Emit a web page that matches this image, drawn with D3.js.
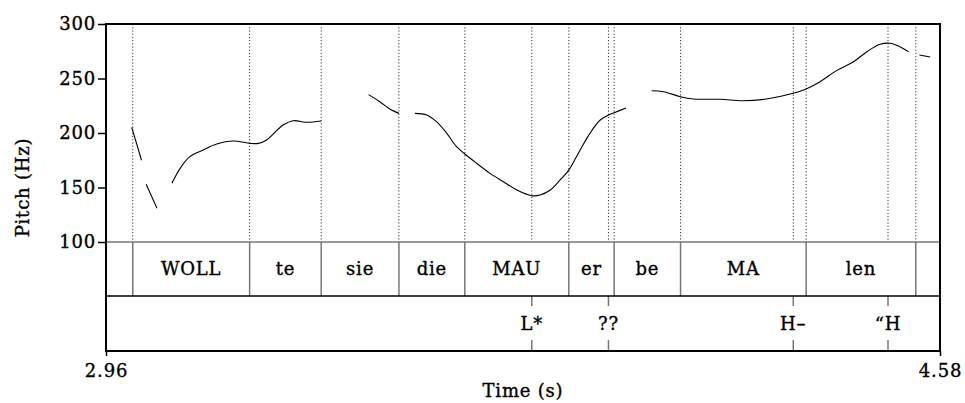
<!DOCTYPE html>
<html>
<head>
<meta charset="utf-8">
<script src="https://cdn.jsdelivr.net/npm/d3@7"></script>
<style>
  body { margin: 0; background: #fff; }
</style>
</head>
<body>
<svg width="965" height="403"></svg>
<script>
// pitch contour, one array per voiced stretch: [time (s), pitch (Hz)]
var seg1 = [[3.010, 205.2], [3.029, 175.0]];
var seg2 = [[3.038, 152.9], [3.059, 130.9]];
var seg3 = [[3.088, 153.8], [3.104, 167.6], [3.123, 178.3], [3.149, 184.4], [3.175, 189.9],
            [3.207, 192.7], [3.240, 190.5], [3.256, 190.5], [3.272, 193.6], [3.304, 207.3],
            [3.324, 211.3], [3.350, 209.8], [3.378, 211.0]];
var seg4 = [[3.470, 235.2], [3.492, 228.7], [3.512, 221.7], [3.529, 218.0]];
var seg5 = [[3.560, 218.0], [3.583, 216.5], [3.602, 210.4], [3.622, 199.7], [3.641, 187.4],
            [3.657, 180.7], [3.680, 172.2], [3.706, 163.0], [3.732, 155.3], [3.758, 147.7],
            [3.787, 142.5], [3.803, 143.1], [3.823, 147.7], [3.842, 156.9], [3.859, 166.0],
            [3.881, 184.4], [3.900, 199.7], [3.920, 211.9], [3.936, 216.5], [3.947, 218.6],
            [3.970, 222.9]];
var seg6 = [[4.020, 238.8], [4.043, 237.9], [4.076, 233.3], [4.101, 231.2], [4.153, 230.9],
            [4.198, 229.6], [4.243, 231.2], [4.295, 236.4], [4.320, 240.4], [4.347, 247.1],
            [4.379, 257.2], [4.412, 265.4], [4.438, 274.6], [4.464, 281.4], [4.483, 282.3],
            [4.502, 279.2], [4.519, 274.6]];
var seg7 = [[4.540, 271.5], [4.561, 269.7]];
var pitchSegments = [seg1, seg2, seg3, seg4, seg5, seg6, seg7];

// syllable tier (interval boundaries and labels)
var syllableBounds = [3.012, 3.239, 3.378, 3.529, 3.657, 3.859, 3.947, 4.076, 4.320, 4.533];
var syllableLabels = ["", "WOLL", "te", "sie", "die", "MAU", "er", "be", "MA", "len", ""];

// tone tier (points)
var toneTimes = [3.787, 3.936, 4.295, 4.479];
var toneLabels = ["L*", "??", "H\u2013", "\u201cH"];

var timeRange = [2.96, 4.58];
var timeLabels = ["2.96", "4.58"];
var pitchRange = [100, 300];
var pitchTicks = [100, 150, 200, 250, 300];

var FONT = "'DejaVu Serif', serif";
var svg = d3.select("svg");
var mLeft = 106, mRight = 940, mTop = 24, pitchBottom = 242, tierSplit = 296, mBottom = 351;

var x = d3.scaleLinear().domain(timeRange).range([mLeft, mRight]);
var y = d3.scaleLinear().domain(pitchRange).range([pitchBottom, mTop]);

function serif(sel) {
  sel.style("font-family", FONT)
    .style("font-size", "18px")
    .style("letter-spacing", "0.8px")
    .style("fill", "#000")
    .style("stroke", "#000")
    .style("stroke-width", 0.35);
}

// dotted guide lines through the pitch area
var guides = syllableBounds.concat(toneTimes);
svg.append("g").selectAll("line")
  .data(guides).enter().append("line")
  .attr("x1", function(d) { return x(d); })
  .attr("x2", function(d) { return x(d); })
  .attr("y1", mTop).attr("y2", pitchBottom)
  .style("stroke", "#333")
  .style("stroke-width", 1)
  .style("stroke-dasharray", "1.2,2");

// pitch curve
var line = d3.line()
  .x(function(d) { return x(d[0]); })
  .y(function(d) { return y(d[1]); })
  .curve(d3.curveCatmullRom);

svg.append("g").selectAll("path")
  .data(pitchSegments).enter().append("path")
  .attr("d", line)
  .style("fill", "none")
  .style("stroke", "#000")
  .style("stroke-width", 1.1);

// syllable boundaries
svg.append("g").selectAll("line")
  .data(syllableBounds).enter().append("line")
  .attr("x1", function(d) { return x(d); })
  .attr("x2", function(d) { return x(d); })
  .attr("y1", pitchBottom).attr("y2", tierSplit)
  .style("stroke", "#777")
  .style("stroke-width", 1.5);

var edges = [timeRange[0]].concat(syllableBounds, [timeRange[1]]);
svg.append("g").selectAll("text")
  .data(syllableLabels).enter().append("text")
  .attr("x", function(d, i) { return (x(edges[i]) + x(edges[i + 1])) / 2; })
  .attr("y", 275)
  .attr("text-anchor", "middle")
  .call(serif)
  .text(function(d) { return d; });

// tone points
var tones = svg.append("g").selectAll("g")
  .data(toneTimes).enter().append("g");
tones.append("line")
  .attr("x1", function(d) { return x(d); }).attr("x2", function(d) { return x(d); })
  .attr("y1", tierSplit).attr("y2", tierSplit + 10)
  .style("stroke", "#777").style("stroke-width", 1.5);
tones.append("line")
  .attr("x1", function(d) { return x(d); }).attr("x2", function(d) { return x(d); })
  .attr("y1", mBottom - 11).attr("y2", mBottom)
  .style("stroke", "#777").style("stroke-width", 1.5);
tones.append("text")
  .attr("x", function(d) { return x(d); })
  .attr("y", 330)
  .attr("text-anchor", "middle")
  .call(serif)
  .text(function(d, i) { return toneLabels[i]; });

// frame
svg.append("line").attr("x1", mLeft).attr("x2", mRight).attr("y1", pitchBottom).attr("y2", pitchBottom)
  .style("stroke", "#777").style("stroke-width", 1.5);
svg.append("line").attr("x1", mLeft).attr("x2", mRight).attr("y1", tierSplit).attr("y2", tierSplit)
  .style("stroke", "#000").style("stroke-width", 1.5);
svg.append("rect").attr("x", mLeft).attr("y", mTop)
  .attr("width", mRight - mLeft).attr("height", mBottom - mTop)
  .style("fill", "none").style("stroke", "#000").style("stroke-width", 2);

// y axis
var yAxis = d3.axisLeft(y).tickValues(pitchTicks).tickSize(8).tickPadding(2);
var ya = svg.append("g").attr("transform", "translate(" + mLeft + ",0)").call(yAxis);
ya.select(".domain").remove();
ya.selectAll("line").style("stroke", "#000").style("stroke-width", 1.5);
ya.selectAll("text").call(serif);

// x axis: only the range ends
var xAxis = d3.axisBottom(x).tickValues(timeRange).tickSize(5).tickPadding(8)
  .tickFormat(function(d, i) { return timeLabels[i]; });
var xa = svg.append("g").attr("transform", "translate(0," + mBottom + ")").call(xAxis);
xa.select(".domain").remove();
xa.selectAll("line").style("stroke", "#000").style("stroke-width", 1.5);
xa.selectAll("text").call(serif);

svg.append("text")
  .attr("x", (mLeft + mRight) / 2).attr("y", 397)
  .attr("text-anchor", "middle")
  .call(serif)
  .text("Time (s)");

svg.append("text")
  .attr("transform", "translate(29," + (mTop + mBottom) / 2 + ") rotate(-90)")
  .attr("text-anchor", "middle")
  .call(serif)
  .text("Pitch (Hz)");
</script>
</body>
</html>
